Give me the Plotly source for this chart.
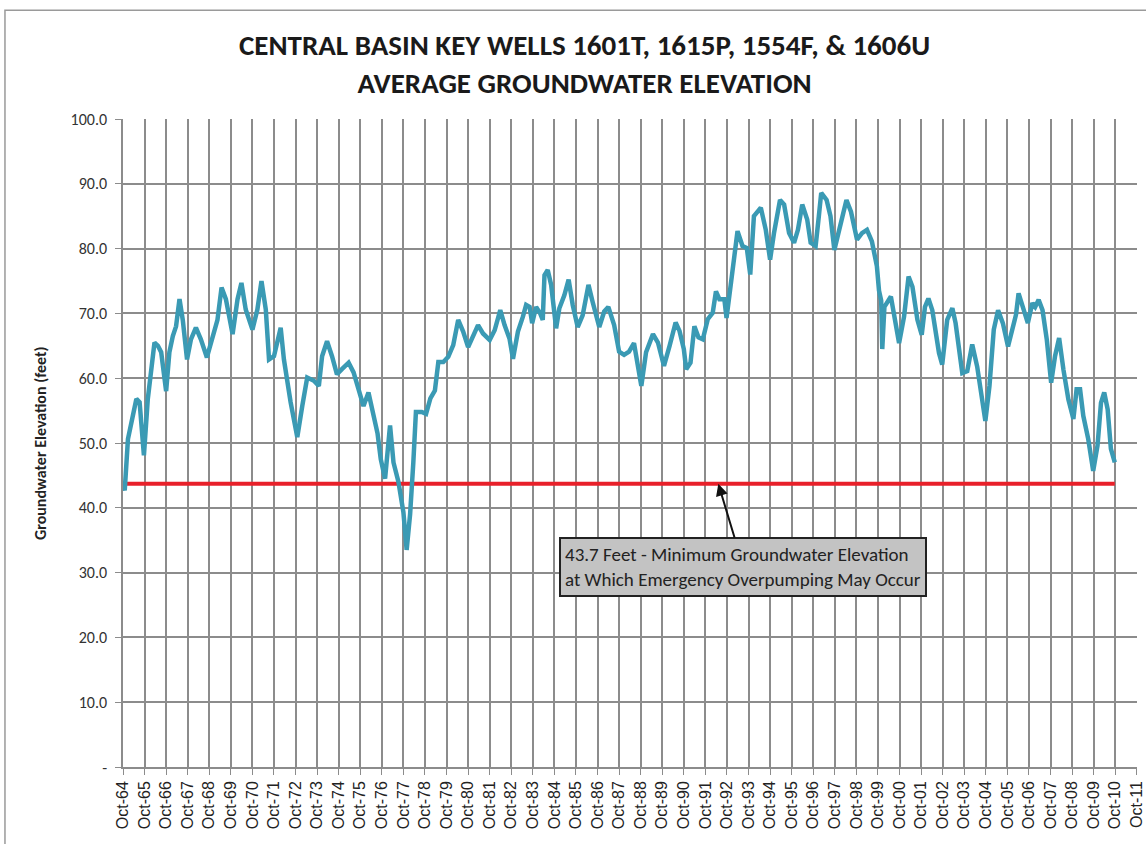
import plotly.graph_objects as go

# ---- data (decimal year, feet) ----
years = [1964.80, 1964.83, 1964.98, 1965.10, 1965.37, 1965.52, 1965.72, 1965.90, 1966.06, 1966.21,
         1966.37, 1966.52, 1966.75, 1966.90, 1967.06, 1967.21, 1967.37, 1967.52, 1967.72, 1967.90,
         1968.13, 1968.36, 1968.64, 1968.90, 1969.13, 1969.32, 1969.52, 1969.83, 1970.06, 1970.24,
         1970.44, 1970.75, 1970.98, 1971.17, 1971.37, 1971.52, 1971.75, 1972.06, 1972.21, 1972.52,
         1972.83, 1973.06, 1973.29, 1973.60, 1973.83, 1973.98, 1974.21, 1974.44, 1974.67, 1974.90,
         1975.21, 1975.44, 1975.90, 1976.13, 1976.36, 1976.55, 1976.70, 1976.90, 1977.13, 1977.29,
         1977.52, 1977.75, 1977.90, 1978.06, 1978.21, 1978.33, 1978.60, 1978.80, 1979.00, 1979.21,
         1979.37, 1979.60, 1979.83, 1980.06, 1980.29, 1980.52, 1980.75, 1980.98, 1981.21, 1981.44,
         1981.75, 1981.98, 1982.24, 1982.44, 1982.67, 1982.83, 1983.06, 1983.29, 1983.44, 1983.60,
         1983.72, 1983.90, 1984.09, 1984.21, 1984.29, 1984.44, 1984.60, 1984.83, 1984.98, 1985.21,
         1985.41, 1985.60, 1985.83, 1986.06, 1986.33, 1986.52, 1986.83, 1987.06, 1987.25, 1987.52,
         1987.75, 1987.98, 1988.21, 1988.44, 1988.60, 1988.78, 1989.00, 1989.32, 1989.55, 1989.83,
         1990.09, 1990.37, 1990.55, 1990.75, 1990.86, 1991.06, 1991.24, 1991.43, 1991.63, 1991.86,
         1992.09, 1992.24, 1992.40, 1992.63, 1992.73, 1992.93, 1993.09, 1993.24, 1993.47, 1993.67,
         1993.83, 1994.00, 1994.17, 1994.32, 1994.55, 1994.75, 1994.93, 1995.21, 1995.40, 1995.63,
         1995.86, 1996.04, 1996.24, 1996.47, 1996.63, 1996.86, 1997.01, 1997.12, 1997.37, 1997.55,
         1997.73, 1998.01, 1998.29, 1998.50, 1998.78, 1999.01, 1999.24, 1999.47, 1999.70, 1999.80,
         1999.90, 1999.95, 2000.05, 2000.35, 2000.50, 2000.73, 2000.96, 2001.17, 2001.35, 2001.58,
         2001.78, 2001.93, 2002.09, 2002.27, 2002.58, 2002.73, 2002.96, 2003.20, 2003.35, 2003.53,
         2003.66, 2003.89, 2004.12, 2004.35, 2004.55, 2004.73, 2004.92, 2005.12, 2005.32, 2005.54,
         2005.78, 2005.96, 2006.15, 2006.27, 2006.45, 2006.70, 2006.91, 2007.04, 2007.20, 2007.38,
         2007.58, 2007.78, 2007.96, 2008.15, 2008.35, 2008.58, 2008.81, 2008.96, 2009.12, 2009.27,
         2009.50, 2009.73, 2009.93, 2010.09, 2010.24, 2010.40, 2010.55, 2010.73]

elevation = [43.0, 42.7, 50.6, 52.7, 56.8, 56.3, 48.1, 56.8, 61.9, 65.5,
             65.0, 64.0, 58.0, 64.0, 66.5, 68.0, 72.2, 69.0, 62.9, 66.0,
             67.8, 66.0, 63.2, 66.0, 69.0, 74.0, 72.2, 66.8, 72.2, 74.7,
             70.6, 67.5, 70.6, 75.0, 70.6, 62.9, 63.4, 67.8, 62.9, 56.3,
             50.9, 55.7, 60.1, 59.6, 58.8, 63.4, 65.7, 63.4, 60.6, 61.4,
             62.4, 60.9, 55.7, 57.8, 54.2, 51.5, 47.5, 44.5, 52.7, 47.0,
             44.0, 39.3, 33.5, 39.0, 47.0, 54.8, 54.8, 54.5, 56.9, 58.1,
             62.5, 62.5, 63.3, 65.1, 69.0, 67.2, 64.8, 66.6, 68.2, 66.9,
             65.9, 67.4, 70.5, 68.2, 66.1, 63.0, 67.2, 69.5, 71.3, 71.0,
             68.5, 71.0, 70.0, 69.0, 75.9, 76.7, 74.4, 67.7, 70.8, 72.8,
             75.2, 71.3, 67.9, 69.7, 74.4, 71.8, 67.9, 70.3, 71.0, 68.2,
             64.1, 63.6, 64.1, 65.4, 62.0, 58.8, 64.0, 66.8, 65.5, 61.9,
             65.0, 68.6, 67.3, 64.5, 61.4, 62.4, 68.0, 66.3, 66.0, 69.1,
             70.1, 73.4, 72.2, 72.2, 69.3, 74.7, 78.8, 82.7, 80.4, 80.1,
             76.0, 85.0, 85.7, 86.3, 82.9, 78.3, 82.4, 87.5, 86.8, 82.4,
             80.9, 82.9, 86.8, 84.5, 80.9, 80.4, 85.0, 88.6, 87.5, 85.0,
             79.8, 84.0, 87.5, 85.7, 81.4, 82.4, 82.9, 81.1, 77.3, 73.5,
             72.0, 64.5, 71.0, 72.6, 69.5, 65.4, 69.5, 75.7, 74.1, 69.0,
             66.7, 71.0, 72.3, 70.5, 63.9, 62.1, 69.0, 70.8, 68.5, 63.9,
             60.8, 61.1, 65.2, 61.8, 57.7, 53.4, 58.8, 67.5, 70.5, 68.5,
             64.9, 67.0, 69.8, 73.1, 71.0, 68.5, 71.6, 71.0, 72.1, 70.5,
             65.9, 59.3, 63.4, 66.2, 61.3, 56.7, 53.7, 58.3, 58.3, 54.2,
             50.6, 45.7, 49.6, 56.2, 57.8, 55.2, 49.1, 47.0]

threshold = 43.7
threshold_span = [1964.80, 2010.73]

x_tick_vals = [1964.75 + k for k in range(48)]
x_tick_text = ["Oct-%02d" % ((64 + k) % 100) for k in range(48)]
y_tick_vals = [0, 10, 20, 30, 40, 50, 60, 70, 80, 90, 100]
y_tick_text = ["-", "10.0", "20.0", "30.0", "40.0", "50.0", "60.0", "70.0", "80.0", "90.0", "100.0"]

title_text = ("<b>CENTRAL BASIN KEY WELLS 1601T, 1615P, 1554F, &amp; 1606U</b><br>"
              "<b>AVERAGE GROUNDWATER ELEVATION</b>")
y_title = "<b>Groundwater Elevation (feet)</b>"
note_text = ("43.7 Feet - Minimum Groundwater Elevation<br>"
             "at Which Emergency Overpumping May Occur")
arrow_at = 1992.35

CAL = "Carlito, Lato, 'Open Sans', sans-serif"
GRID = "#8c8c8c"

fig = go.Figure()
fig.add_trace(go.Scatter(x=threshold_span, y=[threshold, threshold], mode="lines",
                         line=dict(color="#E8202A", width=4), hoverinfo="skip",
                         showlegend=False))
fig.add_trace(go.Scatter(x=years, y=elevation, mode="lines",
                         line=dict(color="#3A9AB4", width=4.5), showlegend=False))

fig.update_layout(
    width=1146, height=844,
    margin=dict(l=123, r=9, t=119, b=77, autoexpand=False),
    paper_bgcolor="white", plot_bgcolor="white",
    xaxis=dict(range=[1964.75, 2011.76], tickmode="array", tickvals=x_tick_vals,
               ticktext=x_tick_text, tickangle=-90, showgrid=True, gridcolor=GRID,
               gridwidth=1.5, showline=True, linecolor=GRID, linewidth=1.5,
               ticks="outside", ticklen=6, tickcolor=GRID, automargin=False,
               ticklabeloverflow="allow",
               tickfont=dict(family="Liberation Sans, Arial, sans-serif", size=16, color="#222"),
               zeroline=False, fixedrange=True),
    yaxis=dict(range=[0, 100], tickmode="array", tickvals=y_tick_vals, ticktext=y_tick_text,
               showgrid=True, gridcolor=GRID, gridwidth=1.5, showline=True,
               linecolor=GRID, linewidth=1.5, ticks="outside", ticklen=6,
               tickcolor=GRID, automargin=False, ticklabelstandoff=5,
               tickfont=dict(family=CAL, size=16, color="#333"),
               zeroline=False, fixedrange=True),
    shapes=[dict(type="rect", xref="paper", yref="paper", x0=-0.1164, x1=1.02,
                 y0=-0.25, y1=1.168, line=dict(color="#9a9a9a", width=1.5), layer="below")],
    annotations=[
        dict(x=0.455, y=1.0855, xref="paper", yref="paper", text=title_text, showarrow=False,
             xanchor="center", yanchor="middle", font=dict(family=CAL, size=29, color="#1a1a1a")),
        dict(x=-0.0818, y=0.5, xref="paper", yref="paper", text=y_title, showarrow=False,
             textangle=-90, xanchor="center", yanchor="middle",
             font=dict(family=CAL, size=16, color="#222")),
        dict(x=arrow_at, y=threshold, xref="x", yref="y", text=note_text,
             showarrow=True, arrowhead=2, arrowsize=1.2, arrowwidth=2,
             arrowcolor="#111", ax=25, ay=83, align="left",
             bgcolor="#C3C3C3", bordercolor="#222", borderwidth=2, borderpad=4,
             font=dict(family=CAL, size=19, color="#222")),
    ],
)

fig.write_html("out.html", config={"displayModeBar": False},
               post_script="document.body.style.margin='0';document.body.style.overflow='hidden';")
